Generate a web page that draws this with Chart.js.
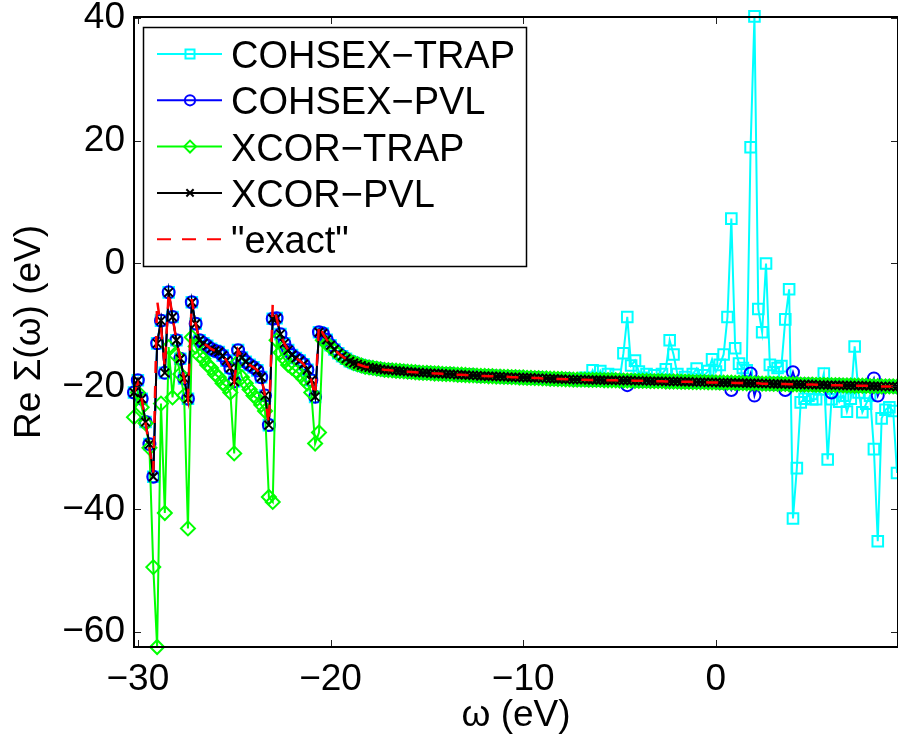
<!DOCTYPE html>
<html>
<head>
<meta charset="utf-8">
<script src="https://cdn.jsdelivr.net/npm/chart.js@4.4.1/dist/chart.umd.min.js"></script>
<style>
  html, body { margin: 0; padding: 0; background: #fff; }
</style>
</head>
<body>
<canvas id="sigma" width="898" height="738"></canvas>
<script>
// omega grid (eV), step 0.2
const omega = [
  -30.2,-30.0,-29.8,-29.6,-29.4,-29.2,-29.0,-28.8,-28.6,-28.4,
  -28.2,-28.0,-27.8,-27.6,-27.4,-27.2,-27.0,-26.8,-26.6,-26.4,
  -26.2,-26.0,-25.8,-25.6,-25.4,-25.2,-25.0,-24.8,-24.6,-24.4,
  -24.2,-24.0,-23.8,-23.6,-23.4,-23.2,-23.0,-22.8,-22.6,-22.4,
  -22.2,-22.0,-21.8,-21.6,-21.4,-21.2,-21.0,-20.8,-20.6,-20.4,
  -20.2,-20.0,-19.8,-19.6,-19.4,-19.2,-19.0,-18.8,-18.6,-18.4,
  -18.2,-18.0,-17.8,-17.6,-17.4,-17.2,-17.0,-16.8,-16.6,-16.4,
  -16.2,-16.0,-15.8,-15.6,-15.4,-15.2,-15.0,-14.8,-14.6,-14.4,
  -14.2,-14.0,-13.8,-13.6,-13.4,-13.2,-13.0,-12.8,-12.6,-12.4,
  -12.2,-12.0,-11.8,-11.6,-11.4,-11.2,-11.0,-10.8,-10.6,-10.4,
  -10.2,-10.0,-9.8,-9.6,-9.4,-9.2,-9.0,-8.8,-8.6,-8.4,
  -8.2,-8.0,-7.8,-7.6,-7.4,-7.2,-7.0,-6.8,-6.6,-6.4,
  -6.2,-6.0,-5.8,-5.6,-5.4,-5.2,-5.0,-4.8,-4.6,-4.4,
  -4.2,-4.0,-3.8,-3.6,-3.4,-3.2,-3.0,-2.8,-2.6,-2.4,
  -2.2,-2.0,-1.8,-1.6,-1.4,-1.2,-1.0,-0.8,-0.6,-0.4,
  -0.2,0.0,0.2,0.4,0.6,0.8,1.0,1.2,1.4,1.6,
  1.8,2.0,2.2,2.4,2.6,2.8,3.0,3.2,3.4,3.6,
  3.8,4.0,4.2,4.4,4.6,4.8,5.0,5.2,5.4,5.6,
  5.8,6.0,6.2,6.4,6.6,6.8,7.0,7.2,7.4,7.6,
  7.8,8.0,8.2,8.4,8.6,8.8,9.0,9.2,9.4
];

// -30.2 .. -19.2 : PVL curves (and COHSEX-TRAP underneath)
const pvlLeft = [
  -21.0,-19.0,-22.0,-25.8,-29.4,-34.7,-13.0,-9.3,-17.8,-4.7,
  -8.7,-12.5,-15.5,-18.7,-22.0,-6.3,-9.8,-12.5,-13.0,-13.4,
  -13.9,-14.2,-14.4,-15.0,-15.8,-17.0,-19.2,-14.1,-15.3,-16.0,
  -16.5,-16.9,-17.4,-18.5,-21.5,-26.3,-9.0,-8.9,-11.5,-13.0,
  -14.1,-14.9,-15.4,-15.8,-16.4,-17.3,-19.0,-21.7,-11.2,-11.4,
  -12.4,-13.3,-14.0,-14.6,-15.1,-15.5
];
const exactLeft = [
  -21.0,-19.5,-22.0,-26.0,-30.0,-34.0,-6.0,-10.5,-17.0,-4.5,
  -8.7,-12.5,-15.5,-18.7,-22.0,-5.8,-9.8,-12.5,-13.0,-13.4,
  -13.9,-14.2,-14.4,-15.0,-15.8,-17.0,-19.2,-14.1,-15.3,-16.0,
  -16.5,-16.9,-17.4,-18.5,-21.5,-26.3,-6.5,-8.9,-11.5,-13.0,
  -14.1,-14.9,-15.4,-15.8,-16.4,-17.3,-19.0,-21.7,-9.8,-11.4,
  -12.4,-13.3,-14.0,-14.6,-15.1,-15.5
];
const xcorTrapLeft = [
  -25.0,-21.0,-23.4,-26.0,-30.0,-49.4,-62.4,-22.8,-40.6,-13.6,
  -21.8,-15.0,-18.0,-21.5,-43.1,-12.0,-13.5,-15.0,-15.5,-16.5,
  -17.0,-18.0,-18.5,-19.5,-20.0,-21.0,-30.9,-16.0,-18.5,-19.5,
  -20.5,-21.5,-22.0,-23.0,-24.0,-38.0,-38.8,-12.5,-14.5,-15.5,
  -16.5,-17.0,-17.5,-18.0,-18.8,-19.5,-21.0,-29.3,-27.5,-12.5,
  -13.0,-13.6,-14.2,-14.7,-15.2,-15.6
];

// -19.0 .. -7.2 : all curves on top of each other
const tailBand = [
  -15.9,-16.2,-16.4,-16.6,-16.8,-16.9,-17.0,-17.1,-17.2,-17.3,
  -17.35,-17.4,-17.45,-17.5,-17.55,-17.6,-17.65,-17.7,-17.75,-17.8,
  -17.8,-17.85,-17.9,-17.9,-17.95,-18.0,-18.0,-18.05,-18.1,-18.1,
  -18.15,-18.2,-18.2,-18.25,-18.3,-18.3,-18.35,-18.35,-18.4,-18.4,
  -18.45,-18.45,-18.5,-18.5,-18.55,-18.55,-18.6,-18.6,-18.65,-18.65,
  -18.7,-18.7,-18.75,-18.75,-18.8,-18.8,-18.85,-18.85,-18.9,-18.9
];

// -7.0 .. 9.4
const rightBand = [
  -18.9,-18.9,-18.95,-18.95,-18.95,-18.95,-19.0,-19.0,-19.0,-19.0,
  -19.05,-19.05,-19.05,-19.05,-19.1,-19.1,-19.1,-19.1,-19.15,-19.15,
  -19.15,-19.15,-19.2,-19.2,-19.2,-19.2,-19.25,-19.25,-19.25,-19.3,
  -19.3,-19.3,-19.3,-19.35,-19.35,-19.35,-19.4,-19.4,-19.4,-19.4,
  -19.45,-19.45,-19.45,-19.5,-19.5,-19.5,-19.5,-19.55,-19.55,-19.55,
  -19.6,-19.6,-19.6,-19.6,-19.65,-19.65,-19.65,-19.7,-19.7,-19.7,
  -19.7,-19.75,-19.75,-19.75,-19.8,-19.8,-19.8,-19.8,-19.85,-19.85,
  -19.85,-19.9,-19.9,-19.9,-19.9,-19.95,-19.95,-19.95,-20.0,-20.0,
  -20.0,-20.0,-20.05
];
const cohsexTrapRight = [
  -18.9,-18.6,-18.9,-17.4,-18.9,-17.5,-18.9,-18.0,-19.0,-18.1,
  -19.0,-14.6,-8.7,-16.6,-15.8,-17.6,-18.6,-18.0,-19.1,-18.2,
  -19.1,-18.0,-17.2,-12.5,-14.8,-18.0,-19.2,-18.5,-19.2,-18.0,
  -17.1,-19.3,-18.2,-17.5,-15.6,-17.6,-16.5,-14.8,-8.7,7.3,
  -13.8,-16.3,-17.0,-17.4,18.9,40.2,-7.4,-11.2,0.0,-16.5,
  -17.7,-17.0,-16.7,-9.1,-4.2,-41.5,-33.3,-22.6,-22.0,-21.5,
  -22.1,-22.1,-20.5,-17.9,-31.9,-22.1,-21.0,-22.5,-21.5,-24.1,
  -22.0,-13.5,-21.0,-24.2,-22.8,-21.5,-30.2,-45.2,-25.2,-23.8,
  -23.4,-24.0,-34.1
];
const cohsexPvlRight = [
  -18.9,-18.9,-18.95,-18.95,-18.95,-18.95,-19.0,-19.0,-19.0,-19.0,
  -19.05,-19.05,-19.8,-19.05,-19.1,-19.1,-19.1,-19.1,-19.15,-19.15,
  -19.15,-19.15,-19.2,-19.2,-19.2,-19.2,-19.25,-19.25,-19.25,-19.3,
  -19.3,-19.3,-19.3,-19.35,-19.35,-19.35,-19.4,-19.4,-19.4,-20.6,
  -19.45,-19.45,-19.45,-19.5,-17.9,-21.5,-19.5,-19.55,-19.55,-19.55,
  -19.6,-19.6,-19.6,-20.6,-19.65,-17.7,-19.65,-19.7,-19.7,-19.7,
  -19.7,-19.75,-19.75,-19.75,-19.8,-21.0,-19.8,-19.8,-19.85,-19.85,
  -19.85,-19.9,-19.9,-19.9,-19.9,-19.95,-18.7,-21.5,-20.0,-20.0,
  -20.0,-20.0,-20.05
];

const xTicks = [-30, -20, -10, 0];
const yTicks = [-60, -40, -20, 0, 20, 40];

const FONT = '"Liberation Sans", Arial, Helvetica, sans-serif';

function pts(vals) {
  return omega.map((x, i) => ({ x: x, y: vals[i] }));
}
function minus(v) {
  return String(v).replace('-', '\u2212');
}

const series = [
  { label: 'COHSEX\u2212TRAP', color: '#00ffff', style: 'rect', r: 7.5,
    vals: [...pvlLeft, ...tailBand, ...cohsexTrapRight] },
  { label: 'COHSEX\u2212PVL', color: '#0000ff', style: 'circle', r: 6,
    vals: [...pvlLeft, ...tailBand, ...cohsexPvlRight] },
  { label: 'XCOR\u2212TRAP', color: '#00ff00', style: 'rectRot', r: 7,
    vals: [...xcorTrapLeft, ...tailBand, ...rightBand] },
  { label: 'XCOR\u2212PVL', color: '#000000', style: 'crossRot', r: 6,
    vals: [...pvlLeft, ...tailBand, ...rightBand] },
  { label: '"exact"', color: '#ff0000', style: false, r: 0,
    vals: [...exactLeft, ...tailBand, ...rightBand] }
];

const datasets = series.map((s, i) => ({
  label: s.label,
  data: pts(s.vals),
  borderColor: s.color,
  borderWidth: s.style ? 2 : 2.5,
  borderDash: s.style ? [] : [12, 13],
  pointStyle: s.style,
  pointRadius: s.r,
  pointHoverRadius: s.r,
  pointBorderColor: s.color,
  pointBackgroundColor: 'rgba(0,0,0,0)',
  pointBorderWidth: 2,
  tension: 0,
  fill: false,
  clip: false,
  order: series.length - i
}));

function drawMarker(ctx, style, x, y, r) {
  ctx.beginPath();
  if (style === 'rect') {
    const h = r * Math.SQRT1_2;
    ctx.rect(x - h, y - h, 2 * h, 2 * h);
  } else if (style === 'circle') {
    ctx.arc(x, y, r, 0, Math.PI * 2);
  } else if (style === 'rectRot') {
    ctx.moveTo(x - r, y); ctx.lineTo(x, y - r); ctx.lineTo(x + r, y); ctx.lineTo(x, y + r);
    ctx.closePath();
  } else if (style === 'crossRot') {
    const h = r * Math.SQRT1_2;
    ctx.moveTo(x - h, y - h); ctx.lineTo(x + h, y + h);
    ctx.moveTo(x + h, y - h); ctx.lineTo(x - h, y + h);
  }
  ctx.stroke();
}

const frame = {
  id: 'frame',
  afterDraw(chart) {
    const { ctx, chartArea: a, scales } = chart;
    ctx.save();
    // inward ticks on all four sides
    ctx.strokeStyle = '#222';
    ctx.lineWidth = 1;
    ctx.beginPath();
    xTicks.forEach(v => {
      const px = Math.round(scales.x.getPixelForValue(v)) + 0.5;
      ctx.moveTo(px, a.bottom); ctx.lineTo(px, a.bottom - 7);
      ctx.moveTo(px, a.top); ctx.lineTo(px, a.top + 7);
    });
    yTicks.forEach(v => {
      const py = Math.round(scales.y.getPixelForValue(v)) + 0.5;
      ctx.moveTo(a.left, py); ctx.lineTo(a.left + 7, py);
      ctx.moveTo(a.right, py); ctx.lineTo(a.right - 7, py);
    });
    ctx.stroke();
    // axes box
    ctx.strokeStyle = '#000';
    ctx.lineWidth = 2;
    ctx.strokeRect(a.left, a.top, a.right - a.left, a.bottom - a.top);

    // legend
    const bx = 143.5, by = 27.5, bw = 383, bh = 239;
    ctx.fillStyle = '#fff';
    ctx.fillRect(bx, by, bw, bh);
    ctx.lineWidth = 1.5;
    ctx.strokeStyle = '#000';
    ctx.strokeRect(bx, by, bw, bh);
    ctx.font = '38px ' + FONT;
    ctx.textBaseline = 'alphabetic';
    ctx.textAlign = 'left';
    chart.data.datasets.forEach((ds, i) => {
      const s = series[i];
      const ly = 54 + i * 46.3;
      ctx.strokeStyle = s.color;
      ctx.lineWidth = 2;
      ctx.setLineDash(s.style ? [] : [14, 11]);
      ctx.beginPath();
      ctx.moveTo(157, ly); ctx.lineTo(222, ly);
      ctx.stroke();
      ctx.setLineDash([]);
      if (s.style) drawMarker(ctx, s.style, 190, ly, s.r * 0.85);
      ctx.fillStyle = '#000';
      ctx.fillText(ds.label, 231, ly + 14);
    });
    ctx.restore();
  }
};

new Chart(document.getElementById('sigma'), {
  type: 'line',
  data: { datasets: datasets },
  options: {
    responsive: false,
    animation: false,
    events: [],
    layout: { autoPadding: false, padding: { top: 17, right: 0, bottom: 0, left: 0 } },
    plugins: { legend: { display: false }, tooltip: { enabled: false } },
    scales: {
      x: {
        type: 'linear',
        min: -30.2,
        max: 9.45,
        grid: { display: false, drawTicks: false },
        border: { display: false },
        afterBuildTicks: s => { s.ticks = xTicks.map(v => ({ value: v })); },
        afterFit: s => { s.height = 91; s.paddingLeft = 0; s.paddingRight = 0; },
        ticks: {
          color: '#000',
          padding: 14,
          maxRotation: 0,
          autoSkip: false,
          font: { family: FONT, size: 37, lineHeight: 1.0 },
          callback: v => minus(v)
        },
        title: {
          display: true,
          text: '\u03c9 (eV)',
          color: '#000',
          padding: 0,
          font: { family: FONT, size: 37, lineHeight: 1.2 }
        }
      },
      y: {
        min: -62.4,
        max: 40.1,
        grid: { display: false, drawTicks: false },
        border: { display: false },
        afterBuildTicks: s => { s.ticks = yTicks.map(v => ({ value: v })); },
        afterFit: s => { s.width = 134; s.paddingTop = 0; s.paddingBottom = 0; },
        ticks: {
          color: '#000',
          padding: 9,
          font: { family: FONT, size: 37, lineHeight: 0.8 },
          callback: v => minus(v)
        },
        title: {
          display: true,
          text: 'Re \u03a3(\u03c9) (eV)',
          color: '#000',
          padding: { top: 8, bottom: 0 },
          font: { family: FONT, size: 37, lineHeight: 1.2 }
        }
      }
    }
  },
  plugins: [frame]
});
</script>
</body>
</html>
